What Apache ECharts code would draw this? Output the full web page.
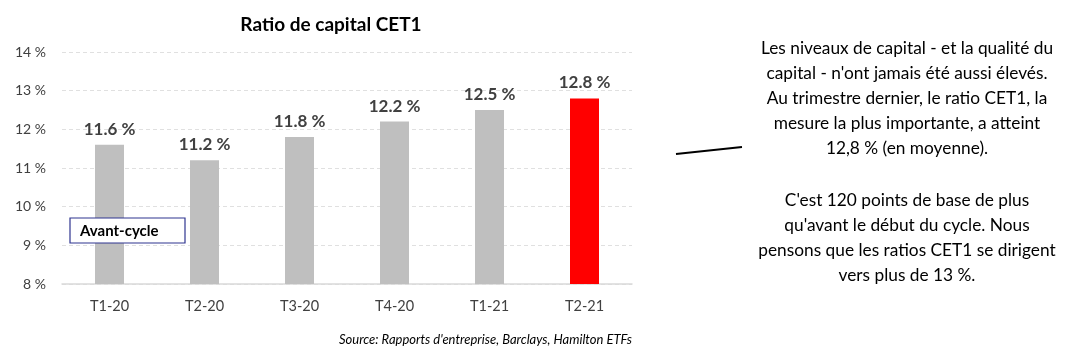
<!DOCTYPE html>
<html><head><meta charset="utf-8">
<script src="https://cdn.jsdelivr.net/npm/echarts@6/dist/echarts.min.js"></script>
<style>html,body{margin:0;padding:0;background:#fff}#c{width:1081px;height:355px}</style>
</head><body><div id="c"></div>
<script>
const categories = ['T1-20','T2-20','T3-20','T4-20','T1-21','T2-21'];
const values = [11.6, 11.2, 11.8, 12.2, 12.5, 12.8];
const barColors = ['#bfbfbf','#bfbfbf','#bfbfbf','#bfbfbf','#bfbfbf','#ff0000'];
const yTicks = {min: 8, max: 14, interval: 1};
const titleText = 'Ratio de capital CET1';
const sourceText = "Source: Rapports d'entreprise, Barclays, Hamilton ETFs";
const annotation = 'Avant-cycle';
const para1 = ['Les niveaux de capital - et la qualité du','capital - n\'ont jamais été aussi élevés.','Au trimestre dernier, le ratio CET1, la','mesure la plus importante, a atteint','12,8 % (en moyenne).'];
const para2 = ['C\'est 120 points de base de plus','qu\'avant le début du cycle. Nous','pensons que les ratios CET1 se dirigent','vers plus de 13 %.'];

const FONT = 'Lato, "Open Sans", sans-serif';
const chart = echarts.init(document.getElementById('c'), null, {renderer:'canvas'});
const textEls = [];
para1.forEach((t,i)=>textEls.push({type:'text', x:907, y:48+i*25, style:{text:t, fill:'#000', font:'17.3px '+FONT, align:'center', verticalAlign:'middle'}}));
para2.forEach((t,i)=>textEls.push({type:'text', x:907, y:200+i*25, style:{text:t, fill:'#000', font:'17.3px '+FONT, align:'center', verticalAlign:'middle'}}));

chart.setOption({
  animation:false,
  backgroundColor:'#fff',
  title:{text:titleText, left:326, top:10, textAlign:'center', textStyle:{fontFamily:FONT, fontWeight:'bold', fontSize:19, color:'#000'}},
  grid:{left:62, right:449, top:52, bottom:71},
  xAxis:{type:'category', data:categories,
    axisLine:{lineStyle:{color:'#d9d9d9', width:1.5}}, axisTick:{show:false},
    axisLabel:{color:'#404040', fontFamily:FONT, fontSize:14.5, margin:15}},
  yAxis:{type:'value', min:yTicks.min, max:yTicks.max, interval:yTicks.interval,
    axisLine:{show:false}, axisTick:{show:false},
    axisLabel:{color:'#404040', fontFamily:FONT, fontSize:14, margin:16, formatter:v=>v+' %'},
    splitLine:{lineStyle:{color:'#e0e0e0', type:[4,3]}}},
  series:[{type:'bar', barWidth:29,
    data:values.map((v,i)=>({value:v, itemStyle:{color:barColors[i]}})),
    label:{show:true, position:'top', distance:7, color:'#404040', fontFamily:FONT, fontWeight:'bold', fontSize:17, formatter:p=>p.value.toFixed(1)+' %'}}],
  graphic:[
    {type:'text', x:632, y:340, style:{text:sourceText, fill:'#000', font:'italic 13px '+FONT, align:'right', verticalAlign:'middle'}},
    {type:'group', z:100, children:[
      {type:'rect', z:100, shape:{x:70, y:218, width:115, height:25}, style:{fill:'#fff', stroke:'#2f3590', lineWidth:1.2}},
      {type:'text', z:101, x:80, y:231, style:{text:annotation, fill:'#000', font:'bold 15px '+FONT, verticalAlign:'middle'}}
    ]},
    {type:'line', shape:{x1:676, y1:154, x2:742, y2:147}, style:{stroke:'#000', lineWidth:1.8}},
    ...textEls
  ]
});
</script></body></html>
